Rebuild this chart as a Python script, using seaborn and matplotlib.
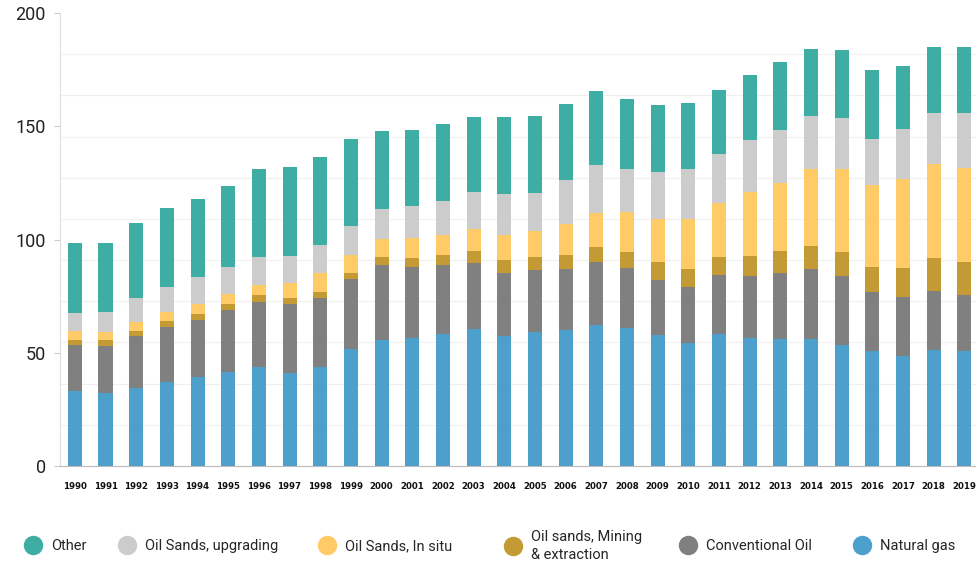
import numpy as np
import pandas as pd
import matplotlib
matplotlib.use("Agg")
import matplotlib.pyplot as plt
from matplotlib.lines import Line2D
import seaborn as sns

years = [str(y) for y in range(1990, 2020)]

natural_gas = [33.1, 32.1, 34.3, 37.1, 39.4, 41.5, 43.7, 41.2, 43.7, 51.8,
               55.8, 56.4, 58.1, 60.5, 57.4, 59.0, 60.0, 62.3, 61.1, 58.0,
               54.5, 58.4, 56.7, 55.9, 55.9, 53.4, 50.6, 48.6, 51.2, 50.9]
conventional_oil = [20.3, 21.0, 23.1, 24.4, 25.1, 27.4, 28.9, 30.3, 30.3, 30.6,
                    32.9, 31.5, 30.6, 29.0, 27.8, 27.5, 27.1, 27.8, 26.5, 24.1,
                    24.4, 25.8, 27.2, 29.5, 31.2, 30.3, 26.2, 26.2, 26.1, 24.4]
mining = [2.2, 2.5, 2.2, 2.5, 2.8, 2.6, 2.9, 2.8, 3.0, 3.0,
          3.4, 4.1, 4.3, 5.4, 5.7, 5.6, 6.1, 6.6, 7.0, 7.8,
          8.2, 8.1, 9.0, 9.7, 10.2, 10.9, 11.2, 12.6, 14.4, 14.9]
in_situ = [4.0, 3.7, 3.8, 3.8, 4.2, 4.4, 4.4, 6.3, 8.1, 7.6,
           8.3, 8.5, 8.8, 9.7, 10.9, 11.7, 13.6, 15.1, 17.7, 19.0,
           21.8, 23.7, 28.2, 29.7, 33.8, 36.5, 35.9, 39.3, 41.5, 41.5]
upgrading = [8.1, 8.7, 10.6, 11.4, 12.1, 12.1, 12.2, 12.1, 12.3, 13.1,
             13.1, 14.4, 15.3, 16.4, 18.3, 16.7, 19.6, 21.1, 19.0, 20.8,
             22.2, 21.9, 23.0, 23.5, 23.4, 22.7, 20.6, 22.1, 22.8, 24.1]
other = [30.9, 30.3, 33.4, 34.9, 34.1, 35.8, 39.2, 39.5, 38.9, 38.1,
         34.3, 33.4, 34.0, 32.9, 33.8, 34.0, 33.4, 32.5, 30.6, 29.5,
         29.2, 28.3, 28.4, 29.9, 29.8, 29.7, 30.3, 27.8, 28.8, 29.2]

# bottom to top stacking order
series = [
    ("Natural gas", natural_gas, "#4DA0CB"),
    ("Conventional Oil", conventional_oil, "#808080"),
    ("Oil sands, Mining\n& extraction", mining, "#C49A35"),
    ("Oil Sands, In situ", in_situ, "#FECB67"),
    ("Oil Sands, upgrading", upgrading, "#CCCCCC"),
    ("Other", other, "#3EAEA5"),
]

df = pd.DataFrame({"year": years})
running = np.zeros(len(years))
for name, vals, _ in series:
    running = running + np.array(vals)
    df[name] = running

sns.set_style("white")
fig = plt.figure(figsize=(9.76, 5.63), dpi=100)
ax = fig.add_axes([0.061, 0.1723, 0.939, 0.8046])

# draw cumulative totals from the top down so each layer covers the next
for name, _, color in reversed(series):
    sns.barplot(data=df, x="year", y=name, color=color, width=0.46,
                saturation=1, edgecolor="none", ax=ax)

ax.set_xlim(-0.5, 29.38)
ax.set_ylim(0, 200)
ax.set_xlabel("")
ax.set_ylabel("")

ax.set_yticks([0, 50, 100, 150, 200])
ax.set_yticks(np.linspace(0, 200, 12), minor=True)
ax.grid(which="minor", axis="y", color="#F0F0F0", linewidth=0.9)
ax.set_axisbelow(True)
ax.tick_params(axis="y", which="major", left=True, length=4, width=0.8,
               color="#CCCCCC", labelsize=13, pad=6, labelcolor="#222222")
ax.tick_params(axis="y", which="minor", left=False)
ax.tick_params(axis="x", bottom=False, labelsize=6.2, pad=8, labelcolor="#111111")
for lbl in ax.get_xticklabels():
    lbl.set_fontweight("bold")
for lbl in ax.get_yticklabels():
    lbl.set_fontfamily(["Roboto", "DejaVu Sans"])

for side in ["top", "right"]:
    ax.spines[side].set_visible(False)
ax.spines["left"].set_color("#DDDDDD")
ax.spines["bottom"].set_color("#BBBBBB")

# one legend per entry so the spacing follows the reference
legend_fs = 10.5
handle_len = 1.4
centers_px = [33, 127, 327, 513, 688, 862]
for (name, _, color), cx in zip(reversed(series), centers_px):
    h = Line2D([], [], marker="o", linestyle="none", markersize=14,
               markerfacecolor=color, markeredgecolor="none")
    offset = handle_len / 2 * legend_fs * 100 / 72
    leg = fig.legend([h], [name], loc="center left",
                     bbox_to_anchor=((cx - offset) / 976, 17 / 563),
                     frameon=False, borderpad=0, borderaxespad=0,
                     handlelength=handle_len, handletextpad=0.55,
                     prop={"family": ["Roboto", "DejaVu Sans"], "size": legend_fs})
    for txt in leg.get_texts():
        txt.set_linespacing(1.45)

fig.savefig("out.png", dpi=100)
